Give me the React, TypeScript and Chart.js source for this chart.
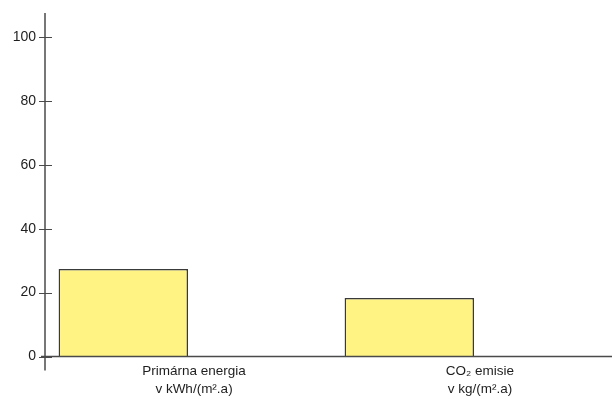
import React, { useEffect, useRef } from "react";
import { Chart, registerables } from "chart.js";

Chart.register(...registerables);

const categories: string[][] = [
  ["Primárna energia", "v kWh/(m².a)"],
  ["CO₂ emisie", "v kg/(m².a)"],
];
const values: number[] = [27.4, 18.3];
const emptySeries: (number | null)[] = [null, null];
const yTicks: number[] = [0, 20, 40, 60, 80, 100];

const AXIS = "#4a4a4a";

const axesPlugin = {
  id: "customAxes",
  afterDatasetsDraw(chart: any) {
    const { ctx, chartArea, scales } = chart;
    const y = scales.y;
    const x0 = chartArea.left;
    const y0 = y.getPixelForValue(0);
    ctx.save();
    ctx.strokeStyle = AXIS;
    ctx.lineWidth = 1.5;
    ctx.beginPath();
    ctx.moveTo(x0, chartArea.top);
    ctx.lineTo(x0, chartArea.bottom + 14);
    ctx.stroke();
    ctx.beginPath();
    ctx.moveTo(x0 - 4, y0);
    ctx.lineTo(chartArea.right, y0);
    ctx.stroke();
    ctx.lineWidth = 1;
    yTicks.forEach((v) => {
      const p = Math.round(y.getPixelForValue(v)) + 0.5;
      ctx.beginPath();
      ctx.moveTo(x0 - 6, p);
      ctx.lineTo(x0 + 7, p);
      ctx.stroke();
    });
    ctx.restore();
  },
};

export default function App() {
  const ref = useRef<HTMLCanvasElement>(null);
  useEffect(() => {
    document.body.style.margin = "0";
    const chart = new Chart(ref.current!, {
      type: "bar",
      data: {
        labels: categories,
        datasets: [
          {
            data: values,
            backgroundColor: "#FFF383",
            borderColor: "#3a3a3a",
            borderWidth: 1.5,
            barPercentage: 1,
            categoryPercentage: 0.905,
          },
          {
            data: emptySeries,
            backgroundColor: "#FFF383",
            barPercentage: 1,
            categoryPercentage: 0.905,
          },
        ],
      },
      options: {
        animation: false,
        responsive: false,
        maintainAspectRatio: false,
        layout: { padding: { top: 13, right: 0, left: 0, bottom: 0 } },
        plugins: { legend: { display: false }, tooltip: { enabled: false } },
        scales: {
          x: {
            grid: { display: false, drawTicks: false },
            border: { display: false },
            ticks: {
              font: { family: "Liberation Sans", size: 13.5, lineHeight: 1.3 },
              color: "#1e1e1e",
              padding: 6,
              labelOffset: 6,
              maxRotation: 0,
              autoSkip: false,
            },
            afterFit(scale: any) {
              scale.height = 42.5;
              scale.paddingLeft = 0;
              scale.paddingRight = 0;
            },
          },
          y: {
            min: 0,
            max: 107.5,
            grid: { display: false, drawTicks: false },
            border: { display: false },
            ticks: {
              stepSize: 20,
              font: { family: "Liberation Sans", size: 14 },
              color: "#1e1e1e",
              padding: 9,
            },
            afterBuildTicks(scale: any) {
              scale.ticks = yTicks.map((v) => ({ value: v }));
            },
            afterFit(scale: any) {
              scale.width = 45;
              scale.paddingTop = 0;
              scale.paddingBottom = 0;
            },
          },
        },
      },
      plugins: [axesPlugin],
    });
    return () => chart.destroy();
  }, []);
  return (
    <div style={{ position: "relative", width: 612, height: 399, overflow: "hidden" }}>
      <canvas ref={ref} width={617} height={399} style={{ display: "block" }} />
    </div>
  );
}
